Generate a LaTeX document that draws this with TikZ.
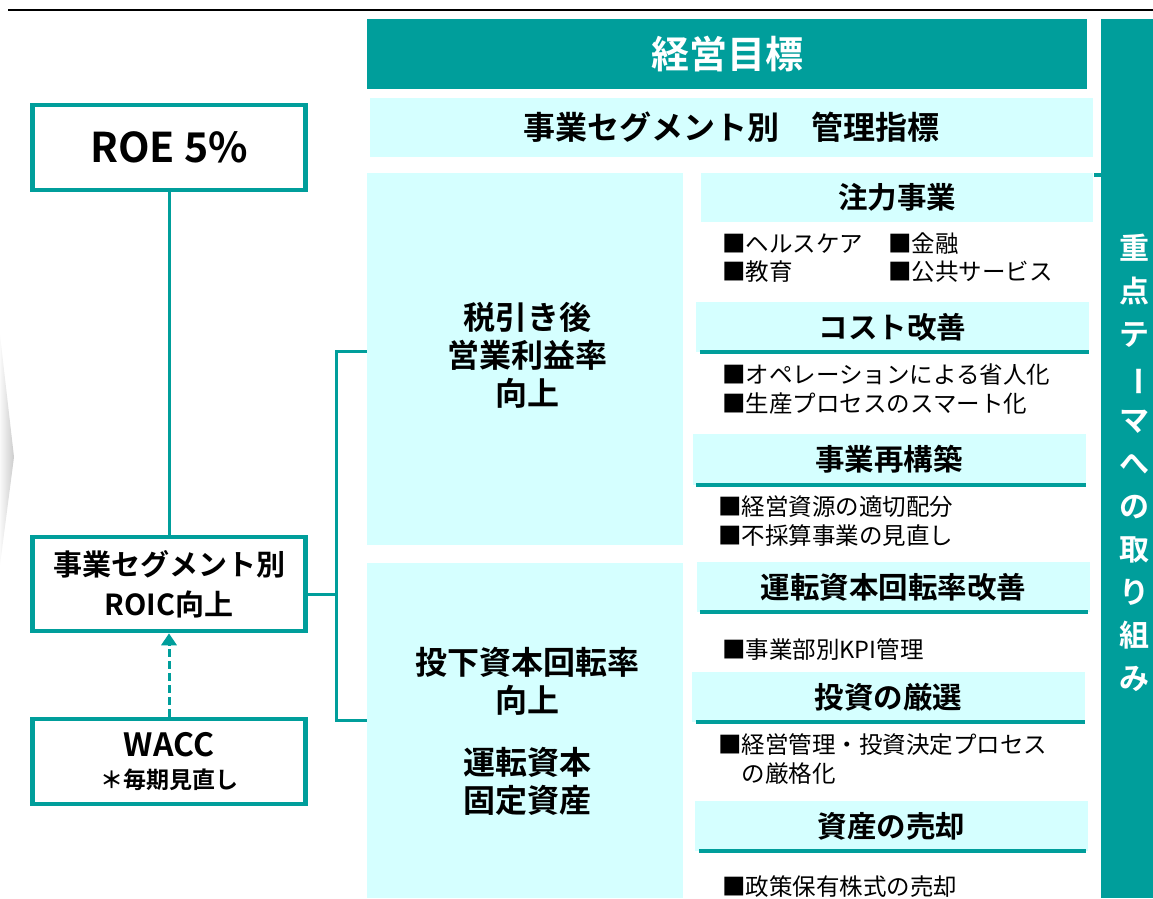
\documentclass[tikz,border=0pt]{standalone}
\usepackage{fontspec}
\setmainfont{Noto Sans CJK JP}[BoldFont={* Bold}]
\usetikzlibrary{arrows.meta,positioning}
\definecolor{kpiteal}{RGB}{0,158,155}
\definecolor{kpicyan}{RGB}{213,255,255}

\begin{document}
\begin{tikzpicture}[x=1pt, y=-1pt,
	frame/.style={draw=kpiteal, line width=4.5pt, fill=white, minimum width=273pt, inner sep=0pt, align=center},
	panel/.style={fill=kpicyan, inner sep=0pt, align=center},
	head/.style={panel, minimum width=393pt, minimum height=50pt, font=\bfseries\fontsize{29.5}{32}\selectfont},
	item/.style={anchor=west, inner sep=0pt, align=left, font=\fontsize{23.5}{28.5}\selectfont},
	uline/.style={draw=kpiteal, line width=3.5pt},
	conn/.style={draw=kpiteal, line width=3pt}]
	\useasboundingbox (0,0) rectangle (1153,898);
	\draw [black, line width=2pt] (8,10) -- (1153,10);
	% grey chevron on the left edge
	\shade [left color=gray!5, right color=gray!40] (0,335) -- (14,457) -- (0,565) -- cycle;

	% left column
	\node [frame, minimum height=85pt, font=\bfseries\fontsize{41}{44}\selectfont] (roe) at (169,147.5) {ROE 5\%};
	\node [frame, minimum height=94pt, font=\bfseries\fontsize{29}{40}\selectfont] (roic) at (169,584) {事業セグメント別\\ROIC向上};
	\node [frame, minimum height=85pt, font=\bfseries\fontsize{23}{32}\selectfont] (wacc) at (169,761.5) {{\fontsize{32}{32}\selectfont WACC}\\＊毎期見直し};
	\path [conn] (roe) -- (roic);
	\path [conn, dash pattern=on 8pt off 4pt, -{Triangle[width=15pt,length=12pt]}] (wacc) -- (roic);

	% headers
	\node [fill=kpiteal, minimum width=720pt, minimum height=70pt, text=white, font=\bfseries\fontsize{38}{42}\selectfont] (goal) at (727,54) {経営目標};
	\node [panel, minimum width=723pt, minimum height=59pt, font=\bfseries\fontsize{32}{36}\selectfont] (index) at (731.5,127.5) {事業セグメント別　管理指標};
	\node [fill=kpiteal, minimum width=54pt, minimum height=879pt, inner sep=0pt] (bar) at (1128,458.5) {};
	\node [text=white, align=center, inner sep=0pt, font=\bfseries\fontsize{30}{43}\selectfont] (theme) at (1134,463) {重\\点\\テ\\\rotatebox[origin=c]{-90}{ー}\\マ\\へ\\の\\取\\り\\組\\み};
	\coordinate (stub) at (1094,175);
	\path [uline] (stub) -- (stub -| bar.west);

	% middle column
	\node [panel, minimum width=316pt, minimum height=372pt] (margin) at (525,359) {};
	\node [align=center, font=\bfseries\fontsize{32}{38}\selectfont] (margintext) at (527,355) {税引き後\\営業利益率\\向上};
	\node [panel, minimum width=316pt, minimum height=335pt] (turn) at (525,730.5) {};
	\node [align=center, font=\bfseries\fontsize{32}{38}\selectfont] (turntext) at (527,681) {投下資本回転率\\向上};
	\node [align=center, font=\bfseries\fontsize{32}{38}\selectfont] (assettext) at (527,781) {運転資本\\固定資産};
	\coordinate (fork) at (336,594);
	\path [conn] ([yshift=-10pt]roic.east) -- (fork);
	\path [conn] ([yshift=8pt]margin.west) -| (fork) |- ([yshift=10pt]turn.west);

	% right column
	\node [head, minimum width=392pt, minimum height=49pt] (focus) at (897,197.5) {注力事業};
	\node [item] (health) at (722,244) {■ヘルスケア};
	\node [item] (finance) at (888,244) {■金融};
	\node [item] (edu) at (722,272) {■教育};
	\node [item] (public) at (888,272) {■公共サービス};

	\node [head] (cost) at (892.5,327) {コスト改善};
	\path [uline] ([xshift=4pt]cost.south west) -- (cost.south east);
	\node [item] (ops) at (722,375) {■オペレーションによる省人化};
	\node [item] (smart) at (722,404) {■生産プロセスのスマート化};

	\node [head, minimum height=51pt] (rebuild) at (889,459.5) {事業再構築};
	\path [uline] ([xshift=4pt]rebuild.south west) -- (rebuild.south east);
	\node [item] (alloc) at (718,507) {■経営資源の適切配分};
	\node [item] (review) at (718,536) {■不採算事業の見直し};

	\node [head] (wc) at (893.5,587) {運転資本回転率改善};
	\path [uline] ([xshift=3pt]wc.south west) -- ([xshift=-2pt]wc.south east);
	\node [item] (kpi) at (722,650) {■事業部別KPI管理};

	\node [head] (invest) at (888.5,697) {投資の厳選};
	\path [uline] ([xshift=4pt]invest.south west) -- (invest.south east);
	\node [item] (strict) at (718,759) {■経営管理・投資決定プロセス\\\hphantom{■}の厳格化};

	\node [head] (sale) at (891.5,826) {資産の売却};
	\path [uline] ([xshift=4pt]sale.south west) -- ([xshift=-2pt]sale.south east);
	\node [item] (shares) at (722,887) {■政策保有株式の売却};
\end{tikzpicture}
\end{document}
